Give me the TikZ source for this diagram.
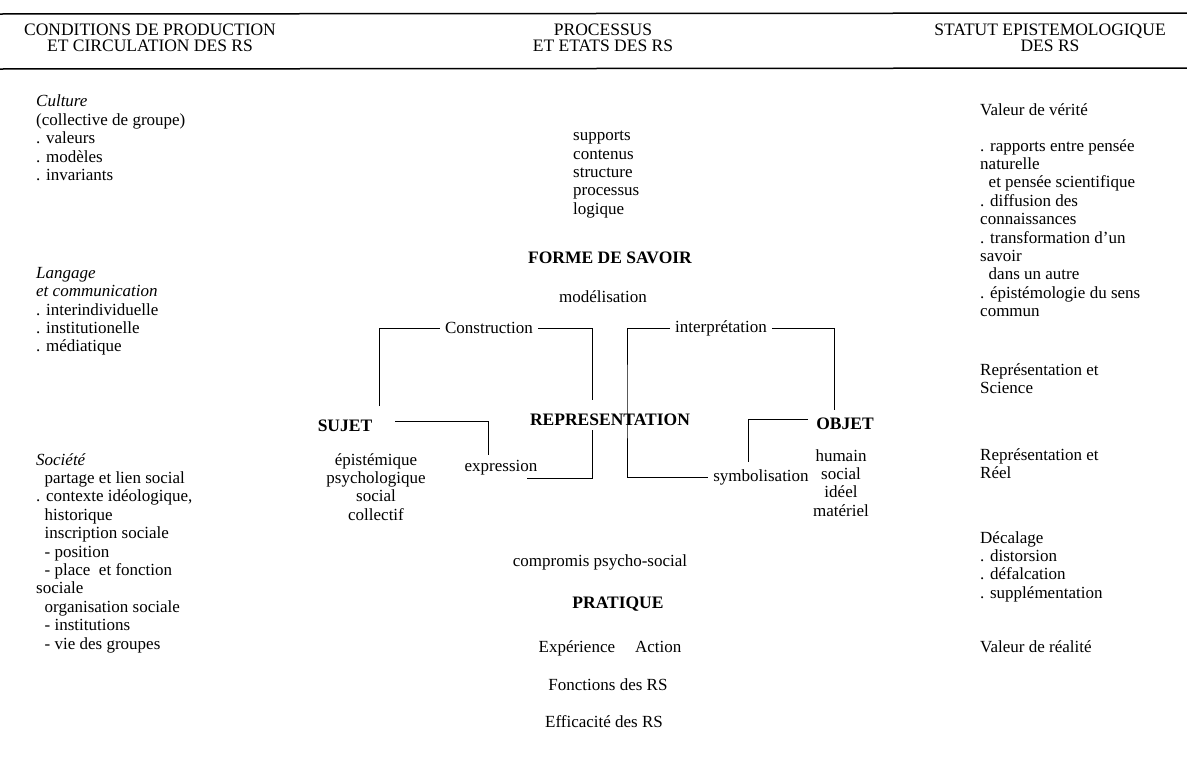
\documentclass[tikz,border=0pt]{standalone}
\usepackage{fontspec}
\setmainfont{Liberation Serif}
\usetikzlibrary{positioning}
\tikzset{
  every node/.style={inner sep=0pt, font=\fontsize{17}{18.4}\selectfont},
  col/.style={align=left, anchor=north west},
  mid/.style={align=center, anchor=north},
  lab/.style={inner xsep=5pt},
  key/.style={font=\fontsize{17.5}{19}\selectfont\bfseries},
  head/.style={align=center, font=\fontsize{17.5}{16.5}\selectfont},
  rule/.style={line width=1.5pt},
  link/.style={line width=1pt}
}
\newcommand{\gap}{\phantom{.} }

\begin{document}
\begin{tikzpicture}[x=1pt,y=-1pt]
\useasboundingbox (0,0) rectangle (1187,774);
% en-tetes
\draw[rule] (0,14) -- (1187,13);
\draw[rule] (0,69) -- (1187,68);
\node[head] (hcond) at (150,38) {CONDITIONS DE PRODUCTION\\ET CIRCULATION DES RS};
\node[head] (hproc) at (603,38) {PROCESSUS\\ET ETATS DES RS};
\node[head] (hstat) at (1050,38) {STATUT EPISTEMOLOGIQUE\\DES RS};

% colonne de gauche
\node[col] (culture) at (36,95) {\textit{Culture}\\(collective de groupe)\\. valeurs\\. mod\`eles\\. invariants};
\node[col] (langage) at (36,267) {\textit{Langage}\\\textit{et communication}\\. interindividuelle\\. institutionelle\\. m\'ediatique};
\node[col] (societe) at (36,453) {\textit{Soci\'et\'e}\\\gap partage et lien social\\. contexte id\'eologique,\\\gap historique\\\gap inscription sociale\\\gap - position\\\gap - place\ \ et fonction\\sociale\\\gap organisation sociale\\\gap - institutions\\\gap - vie des groupes};

% colonne du milieu
\node[col] (supports) at (573,131) {supports\\contenus\\structure\\processus\\logique};
\node[key] (forme) at (610,258) {FORME DE SAVOIR};
\node (modelis) at (603,297) {mod\'elisation};
\node[lab] (constr) at (489,328) {Construction};
\node[lab] (interp) at (721,328) {interpr\'etation};
\node[key] (repres) at (610,420) {REPRESENTATION};
\node[key] (sujet) at (345,426) {SUJET};
\node[key] (objet) at (845,424) {OBJET};
\node[mid] (sujetq) at (376,453) {\'epist\'emique\\psychologique\\social\\collectif};
\node[mid] (objetq) at (841,449) {humain\\social\\id\'eel\\mat\'eriel};
\node (express) at (501,468) {expression};
\node[lab] (symbol) at (761,477) {symbolisation};
\node (comprom) at (600,562) {compromis psycho-social};
\node[key] (pratique) at (618,604) {PRATIQUE};
\node (experien) at (610,648) {Exp\'erience\hspace{20pt}Action};
\node (fonction) at (608,685) {Fonctions des RS};
\node (efficac) at (604,722) {Efficacit\'e des RS};

% colonne de droite
\node[col] (verite) at (980,103) {Valeur de v\'erit\'e};
\node[col] (rapports) at (980,139) {. rapports entre pens\'ee\\naturelle\\\gap et pens\'ee scientifique\\. diffusion des\\connaissances\\. transformation d'un\\savoir\\\gap dans un autre\\. \'epist\'emologie du sens\\commun};
\node[col] (science) at (980,363) {Repr\'esentation et\\Science};
\node[col] (reel) at (980,448) {Repr\'esentation et\\R\'eel};
\node[col] (decalage) at (980,531) {D\'ecalage\\. distorsion\\. d\'efalcation\\. suppl\'ementation};
\node[col] (realite) at (980,640) {Valeur de r\'ealit\'e};

% liaisons
\coordinate (sujup) at (379,406);
\coordinate (repup) at (592,400);
\coordinate (repdn) at (592,430);
\coordinate (exend) at (527,478);
\coordinate (extop) at (488,455);
\coordinate (intv) at (627,400);
\coordinate (objup) at (834,410);
\coordinate (symtop) at (748,462);
\draw[link] (sujup) |- (constr.west);
\draw[link] (constr.east) -| (repup);
\draw[link] (repdn) |- (exend);
\draw[link] ([yshift=5pt]sujet.east) ++(23,0) -| (extop);
\draw[link] (interp.west) -| (intv) |- (symbol.west);
\draw[link] (interp.east) -| (objup);
\draw[link] ([yshift=5pt,xshift=-8pt]objet.west) -| (symtop);
\end{tikzpicture}
\end{document}
